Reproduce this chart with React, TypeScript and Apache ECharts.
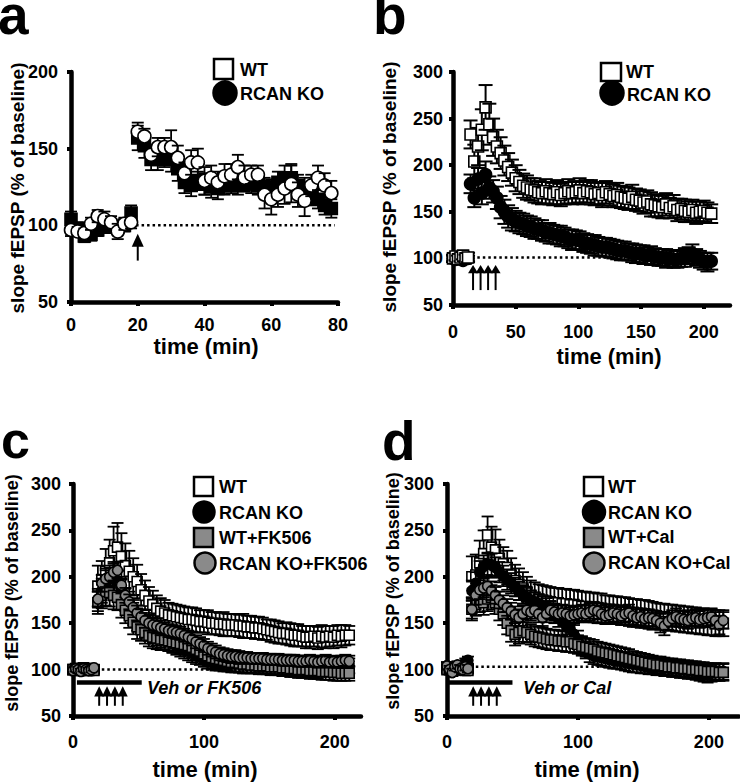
import React, { useEffect, useRef } from 'react';
import * as echarts from 'echarts';

// ---------------- Panel a ----------------
const aTime = [0,2,4,6,8,10,12,14,16,18, 20,22,24,26,28,30,32,34,36,38, 40,42,44,46,48,50,52,54,56,58, 60,62,64,66,68,70,72,74,76,78];
const aWT = [97,96,95,101,106,104,102,96,101,102, 161,158,146,151,151,151,144,134,141,141, 129,131,128,132,133,138,131,133,133,120, 117,120,124,127,120,116,126,131,126,121];
const aWTErr = [4,3,3,4,4,5,4,5,4,4, 6,5,5,6,6,11,8,7,8,9, 9,8,7,8,7,8,8,6,6,9, 10,8,10,12,8,10,7,8,8,8];
const aKO = [104,98,93,94,97,99,99,99,100,108, 157,152,143,143,146,143,137,128,126,129, 127,125,124,126,127,126,128,127,126,125, 123,128,131,131,126,124,120,117,113,111];
const aKOErr = [5,4,4,4,4,4,4,4,4,5, 8,8,7,7,8,8,8,7,7,6, 7,7,7,6,6,6,6,6,6,6, 7,7,8,9,7,7,7,6,6,6];
const aArrows = [20];

// ---------------- Panel b ----------------
const bTime = [0,2,4,6,8,10,12,
  14,17,20,23,26,29,32,35,38,41, 44,47,50,53,56,59,62,65,68,71, 74,77,80,83,86,89,92,95,98,101,
  104,107,110,113,116,119,122,125,128,131, 134,137,140,143,146,149,152,155,158,161, 164,167,170,173,176,179,182,185,188,191,
  194,197,200,203,206];
const bWT = [100,102,99,101,103,100,101,
  233,204,220,238,262,244,230,220,213,205, 198,192,186,182,178,176,174,173,171,170, 172,170,169,171,168,170,172,170,171,173,
  170,172,171,169,170,168,171,169,167,168, 166,165,164,166,163,162,160,161,158,157, 156,155,158,154,156,152,153,151,150,152,
  149,150,151,149,148];
const bWTErr = [4,4,4,4,4,4,5,
  15,18,20,22,24,22,20,18,17,16, 15,14,14,13,13,13,12,13,12,12, 13,12,12,13,12,12,13,12,12,13,
  12,12,13,12,12,13,12,12,12,13, 12,12,12,13,12,12,12,12,13,12, 12,12,12,11,12,12,11,12,11,11,
  12,11,11,11,10];
const bKO = [100,99,101,100,98,101,100,
  180,165,185,170,190,176,172,165,155,150, 145,142,140,138,137,135,134,132,131,130, 128,127,126,125,124,123,121,120,120,119,
  117,116,115,114,113,112,112,111,110,109, 108,108,107,106,105,105,104,103,103,102, 101,101,100,100,99,99,100,101,103,105,
  101,99,97,96,97];
const bKOErr = [3,3,3,3,3,3,3,
  10,10,12,12,14,12,12,12,12,13, 12,12,11,11,11,11,11,11,10,11, 10,11,10,10,11,10,10,11,10,10,
  10,10,10,11,10,10,10,10,10,10, 10,10,9,10,10,9,10,9,10,9, 9,9,10,9,9,9,9,10,9,10,
  9,9,9,10,9];
const bArrows = [16, 22, 28, 34];

// ---------------- Panel c ----------------
const cTime = [0,2,4,6,8,10,12,14,16,
  19,22,25,28,31,34,37,40,43,46, 49,52,55,58,61,64,67,70,73,76, 79,82,85,88,91,94,97,100,103,106,
  109,112,115,118,121,124,127,130,133,136, 139,142,145,148,151,154,157,160,163,166, 169,172,175,178,181,184,187,190,193,196,
  199,202,205,208,211];
const cWT = [100,101,99,100,102,100,99,101,100,
  190,197,206,215,228,232,222,212,206,200, 195,186,180,174,170,166,163,161,159,158, 157,156,155,154,154,153,152,152,151,150,
  150,149,149,148,148,148,147,147,146,146, 145,145,144,143,142,141,140,139,139,138, 137,137,136,135,135,136,134,136,135,136,
  135,137,136,137,137];
const cWTErr = [3,3,3,3,3,3,3,3,3,
  22,20,24,25,26,26,25,24,22,20, 18,17,16,15,15,14,14,14,13,13, 13,13,13,13,13,13,12,12,13,12,
  12,12,13,12,12,12,12,13,12,12, 12,12,12,11,12,12,12,11,12,12, 12,12,11,12,12,11,12,12,12,11,
  12,11,12,11,10];
const cKO = [99,100,101,100,99,101,100,99,100,
  175,185,195,198,202,195,185,175,168,160, 154,150,146,142,139,136,134,132,130,128, 126,124,122,120,118,116,114,112,110,109,
  108,108,107,107,106,106,106,105,105,105, 104,104,104,104,103,103,103,103,102,102, 102,101,101,101,100,100,101,100,101,102,
  102,103,103,104,104];
const cKOErr = [3,3,3,3,3,3,3,3,3,
  12,13,14,14,14,13,13,12,12,12, 12,11,11,11,11,10,10,10,10,10, 10,10,10,10,10,10,9,9,9,9,
  9,9,9,9,9,9,9,9,8,8, 8,8,8,8,8,8,8,8,8,8, 8,8,8,8,8,8,8,8,8,8,
  8,8,8,8,8];
const cWTF = [100,99,101,100,99,100,101,100,99,
  172,180,184,183,180,178,170,164,158,151, 146,143,140,137,135,134,133,132,131,130, 129,128,127,126,124,122,120,117,115,113,
  112,111,110,109,108,108,107,106,106,105, 105,104,104,104,103,103,103,102,102,101, 101,100,100,100,99,99,99,98,98,98,
  97,97,96,96,96];
const cWTFErr = [3,3,3,3,3,3,3,3,3,
  12,14,15,15,15,14,14,14,13,13, 13,12,12,12,12,12,12,11,11,11, 11,11,11,11,11,11,10,10,10,10,
  10,10,10,10,10,10,10,10,10,9, 9,9,9,9,9,9,9,9,9,9, 9,9,9,9,9,9,9,9,9,9,
  9,9,8,8,8];
const cKOF = [99,101,100,98,101,100,99,100,102,
  176,193,198,200,205,207,191,180,173,167, 161,157,153,150,148,147,145,144,142,141, 140,139,137,135,133,130,128,126,123,121,
  119,117,116,115,114,114,113,113,113,112, 112,112,112,111,111,111,111,110,110,110, 110,109,109,109,110,109,108,109,110,108,
  109,108,109,110,109];
const cKOFErr = [3,3,3,3,3,3,3,3,3,
  8,9,9,9,9,9,9,8,8,8, 8,8,8,8,8,8,8,7,7,7, 7,7,7,7,7,7,7,7,7,7,
  7,7,7,7,7,7,7,6,6,6, 6,6,6,6,6,6,6,6,6,6, 6,6,6,6,6,6,6,6,6,6,
  6,6,6,6,6];
const cArrows = [20, 26, 32, 38];

// ---------------- Panel d ----------------
const dTime = [0,2,4,6,8,10,12,14,16,
  19,22,25,28,31,34,37,40,43,46, 49,52,55,58,61,64,67,70,73,76, 79,82,85,88,91,94,97,100,103,106,
  109,112,115,118,121,124,127,130,133,136, 139,142,145,148,151,154,157,160,163,166, 169,172,175,178,181,184,187,190,193,196,
  199,202,205,208,211];
const dWT = [101,100,99,102,100,101,100,99,101,
  200,202,215,225,245,232,229,220,214,210, 202,196,192,188,184,180,178,176,175,174, 173,172,172,171,171,170,170,169,168,168,
  167,167,166,166,165,165,164,164,163,163, 162,161,161,160,160,159,158,158,157,157, 156,156,155,155,154,154,153,153,152,152,
  151,151,150,150,150];
const dWTErr = [3,3,3,3,3,3,3,3,3,
  22,22,24,25,20,22,22,20,18,18, 18,17,17,17,16,16,16,16,16,16, 16,16,16,16,16,16,16,16,16,16,
  16,16,16,16,15,15,15,15,15,15, 15,15,15,15,15,15,15,14,14,14, 14,14,14,14,14,14,14,14,14,14,
  14,14,14,14,14];
const dKO = [104,99,97,101,104,100,101,108,110,
  185,193,205,211,214,213,210,205,201,197, 193,189,185,181,178,175,173,171,169,167, 164,160,156,152,148,144,138,132,126,121,
  117,115,114,113,112,111,110,110,109,108, 107,106,106,105,105,104,104,103,103,102, 102,101,101,100,100,99,99,98,97,96,
  95,96,97,97,98];
const dKOErr = [4,4,4,4,4,4,4,4,4,
  11,12,12,12,12,12,11,11,11,11, 11,10,10,10,10,10,10,10,10,10, 10,10,10,10,10,10,10,10,10,9,
  9,9,9,9,9,9,9,9,9,9, 9,9,9,9,9,9,9,9,9,9, 9,9,9,9,9,9,9,9,9,9,
  9,9,9,9,9];
const dWTC = [100,101,99,100,102,100,101,100,99,
  165,170,175,172,176,178,172,165,160,150, 142,138,140,142,140,138,136,135,134,133, 132,132,131,131,130,130,128,127,125,124,
  123,122,120,119,118,117,116,115,114,113, 112,111,110,109,108,107,106,105,105,104, 103,103,102,102,101,101,100,100,99,99,
  98,98,98,97,97];
const dWTCErr = [3,3,3,3,3,3,3,3,3,
  12,12,13,13,13,13,12,12,12,12, 12,12,12,12,11,11,11,11,11,11, 11,11,11,11,11,11,10,10,10,10,
  10,10,10,10,10,10,10,10,10,10, 10,9,9,9,9,9,9,9,9,9, 9,9,9,9,9,9,9,9,9,9,
  9,9,9,9,9];
const dKOC = [104,100,97,103,105,101,100,103,101,
  165,180,186,188,190,185,180,175,171,167, 163,159,156,160,164,162,164,160,156,160, 164,162,160,161,160,158,159,160,161,160,
  162,164,163,160,158,159,161,160,158,160, 161,158,156,157,155,156,155,153,150,147, 152,155,157,155,154,153,155,156,154,155,
  156,157,153,148,153];
const dKOCErr = [4,4,4,4,4,4,4,4,4,
  10,10,10,10,10,10,9,9,9,9, 9,9,9,9,9,9,9,9,9,9, 9,9,9,9,9,9,9,9,9,9,
  9,9,9,9,9,9,9,9,9,9, 9,9,9,9,9,9,9,9,10,10, 9,9,9,9,9,9,9,9,9,9,
  9,9,9,10,9];
const dArrows = [20, 26, 32, 38];

const FONT = '"Liberation Sans", Arial, Helvetica, sans-serif';
const GRAY = '#8a8a8a';

function pts(t: number[], v: number[], e: number[]) {
  return t.map((x, i) => [x, v[i], e[i]]);
}

function markerSeries(gi: number, data: number[][], shape: string, fill: string, size: number, cap: number, lw = 1.8) {
  return {
    type: 'custom',
    xAxisIndex: gi,
    yAxisIndex: gi,
    coordinateSystem: 'cartesian2d',
    data,
    encode: { x: 0, y: 1 },
    z: 3,
    silent: true,
    renderItem: (_p: any, api: any) => {
      const t = api.value(0), v = api.value(1), e = api.value(2);
      const c = api.coord([t, v]);
      const hi = api.coord([t, v + e]);
      const lo = api.coord([t, v - e]);
      const st = { stroke: '#000', lineWidth: lw, fill: null };
      const mstyle = { fill, stroke: '#000', lineWidth: 1.6 };
      const marker = shape === 'circle'
        ? { type: 'circle', shape: { cx: c[0], cy: c[1], r: size / 2 }, style: mstyle }
        : { type: 'rect', shape: { x: c[0] - size / 2, y: c[1] - size / 2, width: size, height: size }, style: mstyle };
      return {
        type: 'group',
        children: [
          { type: 'line', shape: { x1: c[0], y1: hi[1], x2: c[0], y2: lo[1] }, style: st },
          { type: 'line', shape: { x1: c[0] - cap / 2, y1: hi[1], x2: c[0] + cap / 2, y2: hi[1] }, style: st },
          { type: 'line', shape: { x1: c[0] - cap / 2, y1: lo[1], x2: c[0] + cap / 2, y2: lo[1] }, style: st },
          marker,
        ],
      };
    },
  };
}

function arrowSeries(gi: number, times: number[], tip: number, base: number, tail: number, hw: number) {
  return {
    type: 'custom',
    xAxisIndex: gi,
    yAxisIndex: gi,
    coordinateSystem: 'cartesian2d',
    data: times.map((t) => [t, tip]),
    encode: { x: 0, y: 1 },
    z: 4,
    silent: true,
    renderItem: (_p: any, api: any) => {
      const t = api.value(0);
      const a = api.coord([t, tip]);
      const b = api.coord([t, base]);
      const c = api.coord([t, tail]);
      return {
        type: 'group',
        children: [
          { type: 'line', shape: { x1: a[0], y1: b[1] - 1, x2: a[0], y2: c[1] }, style: { stroke: '#000', lineWidth: 2 } },
          { type: 'polygon', shape: { points: [[a[0], a[1]], [a[0] - hw / 2, b[1]], [a[0] + hw / 2, b[1]]] }, style: { fill: '#000' } },
        ],
      };
    },
  };
}

function hLine(gi: number, t0: number, t1: number, v: number, width: number, dotted: boolean) {
  return {
    type: 'line',
    xAxisIndex: gi,
    yAxisIndex: gi,
    data: [[t0, v], [t1, v]],
    symbol: 'none',
    silent: true,
    z: 1,
    lineStyle: { color: '#000', width, type: dotted ? [2.5, 3] : 'solid' },
  };
}

function xAx(gi: number, max: number, ticks: number[], margin: number) {
  return {
    type: 'value', gridIndex: gi, min: 0, max, interval: ticks[1] - ticks[0],
    axisLine: { show: true, onZero: false, lineStyle: { color: '#000', width: 4.5 } },
    axisTick: { show: true, length: 4, lineStyle: { color: '#000', width: 4 }, customValues: ticks },
    axisLabel: { color: '#000', fontSize: 18, fontWeight: 'bold', fontFamily: FONT, margin, customValues: ticks },
    splitLine: { show: false },
  };
}

function yAx(gi: number, min: number, max: number, margin: number) {
  return {
    type: 'value', gridIndex: gi, min, max, interval: 50,
    axisLine: { show: true, onZero: false, lineStyle: { color: '#000', width: 4.5 } },
    axisTick: { show: true, length: 4, lineStyle: { color: '#000', width: 4 } },
    axisLabel: { color: '#000', fontSize: 18, fontWeight: 'bold', fontFamily: FONT, margin },
    splitLine: { show: false },
  };
}

function txt(text: string, x: number, y: number, size: number, extra: any = {}) {
  const { italic, align, ...rest } = extra;
  return {
    type: 'text', x, y, silent: true, ...rest,
    style: {
      text, fill: '#000', font: `${italic ? 'italic ' : ''}bold ${size}px ${FONT}`,
      textAlign: align || 'left', textVerticalAlign: 'middle',
    },
  };
}

function sq(x: number, y: number, w: number, h: number, fill: string) {
  return { type: 'rect', silent: true, shape: { x, y, width: w, height: h }, style: { fill, stroke: '#000', lineWidth: 2.5 } };
}
function circ(cx: number, cy: number, r: number, fill: string) {
  return { type: 'circle', silent: true, shape: { cx, cy, r }, style: { fill, stroke: '#000', lineWidth: 2.5 } };
}

export default function App() {
  const ref = useRef<HTMLDivElement>(null);
  useEffect(() => {
    if (!ref.current) return;
    const chart = echarts.init(ref.current, undefined, { renderer: 'svg' });
    const ytitle = 'slope fEPSP (% of baseline)';
    const option: any = {
      animation: false,
      backgroundColor: '#fff',
      grid: [
        { left: 71, top: 72, width: 267, height: 230, outerBoundsMode: 'none' },
        { left: 453, top: 72, width: 277, height: 233, outerBoundsMode: 'none' },
        { left: 73, top: 484, width: 288, height: 232, outerBoundsMode: 'none' },
        { left: 447, top: 484, width: 292, height: 232, outerBoundsMode: 'none' },
      ],
      xAxis: [
        xAx(0, 80, [0, 20, 40, 60, 80], 14),
        xAx(1, 221, [0, 50, 100, 150, 200], 18),
        xAx(2, 220, [0, 100, 200], 17),
        xAx(3, 223, [0, 100, 200], 17),
      ],
      yAxis: [
        yAx(0, 50, 200, 13),
        yAx(1, 50, 300, 10),
        yAx(2, 50, 300, 12),
        yAx(3, 50, 300, 13),
      ],
      series: [
        // a
        hLine(0, 19.5, 79, 100, 2.5, true),
        markerSeries(0, pts(aTime, aKO, aKOErr), 'rect', '#000', 12, 12),
        markerSeries(0, pts(aTime, aWT, aWTErr), 'circle', '#fff', 13, 12),
        arrowSeries(0, aArrows, 94.5, 86, 77, 12),
        // b
        hLine(1, 15, 205, 101, 2.5, true),
        markerSeries(1, pts(bTime, bKO, bKOErr), 'circle', '#000', 12, 14, 2),
        markerSeries(1, pts(bTime, bWT, bWTErr), 'rect', '#fff', 11, 14, 2),
        arrowSeries(1, bArrows, 93, 84, 66, 10),
        // c
        hLine(2, 22, 209, 100, 2.5, true),
        hLine(2, 3, 52.5, 86, 4.5, false),
        markerSeries(2, pts(cTime, cWT, cWTErr), 'rect', '#fff', 10, 12),
        markerSeries(2, pts(cTime, cKO, cKOErr), 'circle', '#000', 10, 12),
        markerSeries(2, pts(cTime, cWTF, cWTFErr), 'rect', GRAY, 10, 12),
        markerSeries(2, pts(cTime, cKOF, cKOFErr), 'circle', GRAY, 10, 12),
        arrowSeries(2, cArrows, 82, 71, 61, 10),
        // d
        hLine(3, 22, 198, 103, 2.5, true),
        hLine(3, 1, 50, 86, 4.5, false),
        markerSeries(3, pts(dTime, dWT, dWTErr), 'rect', '#fff', 10, 12),
        markerSeries(3, pts(dTime, dKO, dKOErr), 'circle', '#000', 10, 12),
        markerSeries(3, pts(dTime, dWTC, dWTCErr), 'rect', GRAY, 10, 12),
        markerSeries(3, pts(dTime, dKOC, dKOCErr), 'circle', GRAY, 10, 12),
        arrowSeries(3, dArrows, 82, 71, 61, 10),
      ],
      graphic: {
        elements: [
          // panel letters
          txt('a', -2, 15, 55),
          txt('b', 373, 15, 55),
          txt('c', 1, 440, 52),
          txt('d', 382, 441, 55),
          // y titles
          txt(ytitle, 17, 188, 19, { rotation: Math.PI / 2, align: 'center' }),
          txt(ytitle, 389, 187, 19, { rotation: Math.PI / 2, align: 'center' }),
          txt(ytitle, 12, 593, 18, { rotation: Math.PI / 2, align: 'center' }),
          txt(ytitle, 393, 591, 18, { rotation: Math.PI / 2, align: 'center' }),
          // x titles
          txt('time (min)', 206, 346, 22, { align: 'center' }),
          txt('time (min)', 609, 356, 22, { align: 'center' }),
          txt('time (min)', 205, 769, 22, { align: 'center' }),
          txt('time (min)', 587, 769, 22, { align: 'center' }),
          // legend a
          sq(214, 59, 19, 20, '#fff'), txt('WT', 240, 70, 18),
          circ(225, 93, 11.5, '#000'), txt('RCAN KO', 240, 94, 18),
          // legend b
          sq(601, 63, 20, 18, '#fff'), txt('WT', 626, 72, 18),
          circ(612, 93, 11.5, '#000'), txt('RCAN KO', 627, 95, 18),
          // legend c
          sq(194, 477, 19, 19, '#fff'), txt('WT', 219, 487, 18),
          circ(204, 512, 10.5, '#000'), txt('RCAN KO', 219, 513, 18),
          sq(194, 528, 19, 19, GRAY), txt('WT+FK506', 219, 538, 18),
          circ(205, 563, 10.5, GRAY), txt('RCAN KO+FK506', 219, 564, 18),
          // legend d
          sq(584, 477, 19, 19, '#fff'), txt('WT', 608, 487, 18),
          circ(594, 512, 11, '#000'), txt('RCAN KO', 608, 513, 18),
          sq(584, 528, 19, 19, GRAY), txt('WT+Cal', 608, 537, 18),
          circ(594, 563, 10.5, GRAY), txt('RCAN KO+Cal', 608, 563, 18),
          // treatment labels
          txt('Veh or FK506', 147, 688, 18, { italic: true }),
          txt('Veh or Cal', 523, 688, 18, { italic: true }),
        ],
      },
    };
    chart.setOption(option);
    return () => chart.dispose();
  }, []);
  return (
    <div
      ref={ref}
      style={{ position: 'fixed', left: 0, top: 0, width: 740, height: 782, background: '#fff' }}
    />
  );
}
